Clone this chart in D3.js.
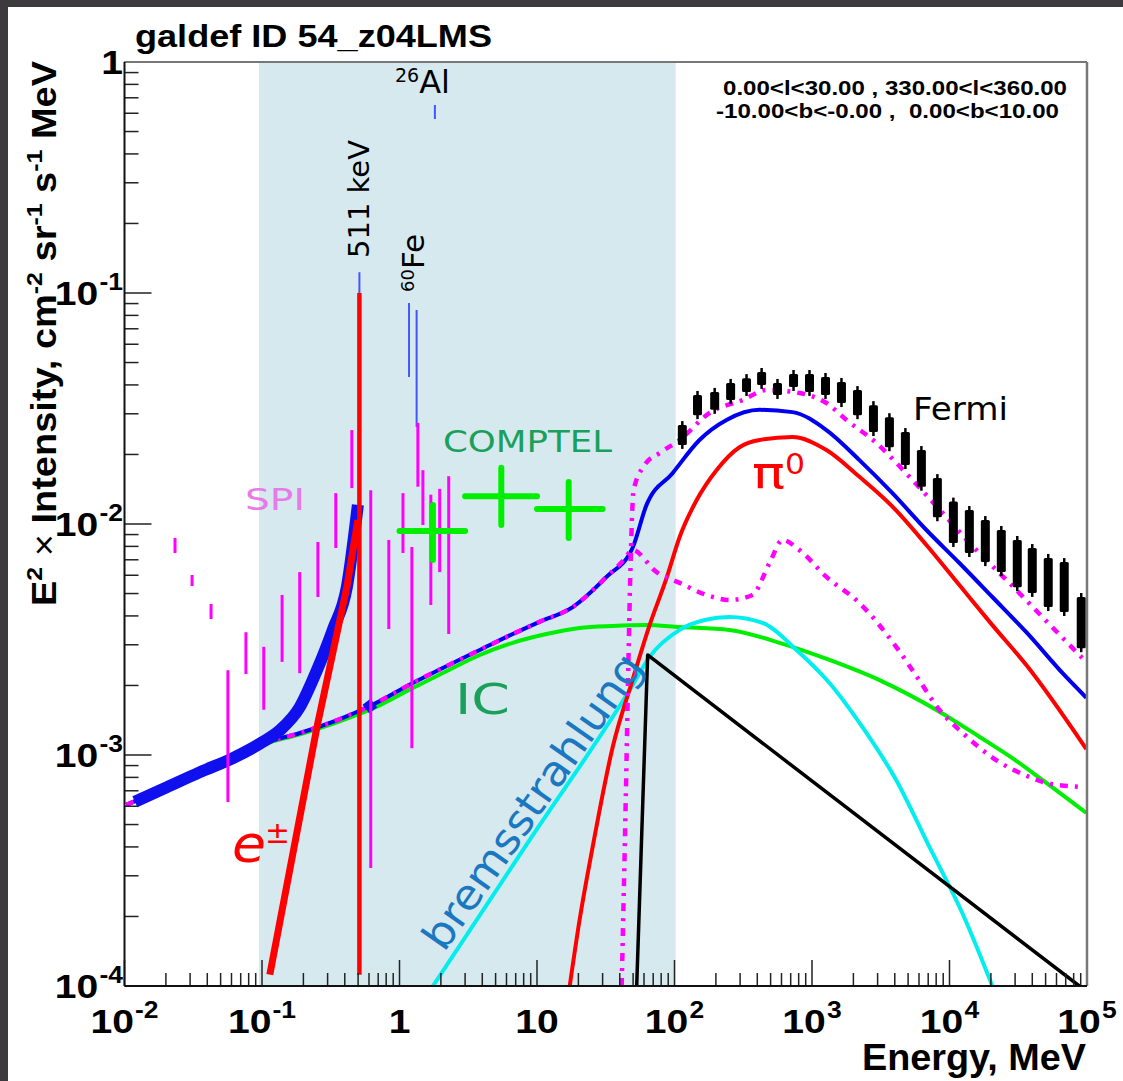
<!DOCTYPE html>
<html><head><meta charset="utf-8">
<script src="https://cdn.jsdelivr.net/npm/d3@7"></script>
<style>body{margin:0;background:#fff}svg{display:block}</style>
</head><body><svg id="c" width="1123" height="1081"></svg>
<script>
// ---------------- DATA (E in MeV, E^2 x Intensity in cm^-2 sr^-1 s^-1 MeV) ----------------
const shadeE = [0.095, 102];

// Total (blue, thin)
const totalE = [0.0103, 0.0204, 0.0354, 0.0615, 0.0966, 0.189, 0.368, 0.61, 1.25, 2.21, 3.84, 6.66, 10.4, 18.2, 32, 49.5, 62.6, 96.8, 152, 239, 415, 721, 1274, 2213, 3846, 6792, 11800, 20500, 36200, 68300, 98900];
const totalV = [6.08e-4, 7.26e-4, 8.43e-4, 9.7e-4, 1.11e-3, 1.245e-3, 1.43e-3, 1.63e-3, 2.05e-3, 2.43e-3, 2.85e-3, 3.34e-3, 3.77e-3, 4.37e-3, 5.90e-3, 7.87e-3, 1.21e-2, 1.66e-2, 2.31e-2, 2.82e-2, 3.12e-2, 3.05e-2, 2.55e-2, 1.89e-2, 1.36e-2, 9.42e-3, 6.78e-3, 4.83e-3, 3.40e-3, 2.22e-3, 1.77e-3];

// Total incl. positronium continuum (thick blue band)
const bandE = [0.0119, 0.0204, 0.0354, 0.0615, 0.0966, 0.135, 0.188, 0.251, 0.327, 0.414, 0.498];
const bandV = [6.27e-4, 7.26e-4, 8.43e-4, 9.7e-4, 1.12e-3, 1.28e-3, 1.61e-3, 2.33e-3, 3.48e-3, 5.33e-3, 1.21e-2];

// Inverse Compton (green)
const icE = [0.0103, 0.0204, 0.0354, 0.0615, 0.0966, 0.189, 0.368, 0.61, 1.25, 2.21, 3.84, 6.66, 11.7, 20.4, 35.5, 62.6, 109, 251, 581, 1340, 3097, 8450, 16500, 28640, 47300, 98900];
const icV = [6.08e-4, 7.26e-4, 8.43e-4, 9.7e-4, 1.10e-3, 1.23e-3, 1.40e-3, 1.57e-3, 1.95e-3, 2.31e-3, 2.71e-3, 3.06e-3, 3.34e-3, 3.55e-3, 3.62e-3, 3.65e-3, 3.58e-3, 3.48e-3, 3.06e-3, 2.58e-3, 2.11e-3, 1.54e-3, 1.20e-3, 9.7e-4, 7.8e-4, 5.61e-4];

// pi0 decay (red)
const pi0E = [17.3, 20.4, 25.4, 35.5, 49.5, 65.9, 87.5, 109, 145, 202, 297, 415, 721, 1274, 2213, 3846, 6792, 11800, 20500, 36200, 98900];
const pi0V = [1e-4, 1.93e-4, 4.0e-4, 1.08e-3, 2.11e-3, 3.65e-3, 5.83e-3, 8.79e-3, 1.27e-2, 1.71e-2, 2.15e-2, 2.31e-2, 2.38e-2, 2.09e-2, 1.60e-2, 1.19e-2, 8.11e-3, 5.44e-3, 3.65e-3, 2.45e-3, 1.06e-3];

// Bremsstrahlung (cyan)
const bremE = [1.75, 8.85, 47.2, 65.9, 109, 166, 251, 437, 771, 1340, 2328, 4093, 7145, 12390, 20500];
const bremV = [1e-4, 4.29e-4, 1.91e-3, 2.66e-3, 3.48e-3, 3.84e-3, 3.96e-3, 3.73e-3, 2.85e-3, 2.05e-3, 1.32e-3, 7.8e-4, 4.0e-4, 2.07e-4, 1e-4];

// Sources (black)
const srcE = [53.1, 63.8, 87900];
const srcV = [1e-4, 2.71e-3, 1e-4];

// Magenta dash-dot, lower
const magAE = [0.0103, 0.0204, 0.0354, 0.0615, 0.0966, 0.189, 0.368, 0.61, 1.25, 2.21, 3.84, 6.66, 10.4, 18.2, 32, 42.7, 49.5, 74.1, 109, 171, 251, 369, 491, 610, 811, 1274, 2213, 4093, 6012, 8433, 12390, 21880, 38020, 50470, 90800];
const magAV = [6.08e-4, 7.26e-4, 8.43e-4, 9.7e-4, 1.11e-3, 1.245e-3, 1.43e-3, 1.63e-3, 2.05e-3, 2.43e-3, 2.85e-3, 3.34e-3, 3.77e-3, 4.37e-3, 5.90e-3, 6.98e-3, 7.71e-3, 6.19e-3, 5.56e-3, 4.93e-3, 4.69e-3, 4.93e-3, 6.78e-3, 8.53e-3, 7.71e-3, 5.90e-3, 4.55e-3, 2.94e-3, 2.11e-3, 1.57e-3, 1.25e-3, 9.5e-4, 8.04e-4, 7.57e-4, 7.27e-4];

// Magenta dash-dot, upper
const magBE = [41.3, 44.2, 46.4, 48, 50.4, 60.7, 78, 109, 180, 313, 467, 811, 1274, 1782, 2944, 5117, 8872, 15670, 27230, 47300, 92300];
const magBV = [1e-4, 6.4e-4, 2.85e-3, 6.98e-3, 1.40e-2, 1.80e-2, 2.03e-2, 2.31e-2, 3.03e-2, 3.44e-2, 3.80e-2, 3.69e-2, 3.34e-2, 2.82e-2, 2.24e-2, 1.60e-2, 1.12e-2, 7.71e-3, 5.56e-3, 3.96e-3, 2.63e-3];

// e+- continuum (red thick) and 511 keV line
const epmE = [0.114, 0.251, 0.414, 0.498];
const epmV = [1.12e-4, 1.32e-3, 5.33e-3, 1.04e-2];
const annihE = 0.511, annihLo = 1.12e-4, annihHi = 0.1;

// Gamma-ray lines (thin blue): 511 keV, 60Fe (1.173, 1.332), 26Al (1.809)
const lineE  = [0.511, 1.173, 1.332, 1.809];
const lineLo = [0.0121, 0.0433, 0.0263, 0.567];
const lineHi = [0.123, 0.0905, 0.0844, 0.651];

// SPI (magenta bars)
const spiE  = [0.0233, 0.031, 0.0426, 0.0565, 0.0764, 0.103, 0.140, 0.188, 0.255, 0.344, 0.450, 0.618, 0.836, 1.06, 1.23, 1.36, 1.48, 1.69, 1.96, 2.28];
const spiLo = [7.49e-3, 5.39e-3, 3.88e-3, 6.26e-4, 2.24e-3, 1.57e-3, 2.53e-3, 2.26e-3, 4.83e-3, 7.87e-3, 1.43e-2, 3.24e-4, 3.51e-3, 7.49e-3, 1.07e-3, 1.45e-2, 9.9e-3, 4.46e-3, 6.19e-3, 3.34e-3];
const spiHi = [8.7e-3, 6.01e-3, 4.51e-3, 2.33e-3, 3.40e-3, 2.94e-3, 4.93e-3, 6.19e-3, 8.36e-3, 1.36e-2, 2.55e-2, 1.40e-2, 8.53e-3, 1.36e-2, 7.95e-3, 2.74e-2, 1.71e-2, 1.34e-2, 1.42e-2, 1.61e-2];

// COMPTEL (green crosses)
const comptelELo = [1, 3, 10];
const comptelEHi = [3, 10, 30];
const comptelEc  = [1.75, 5.5, 17];
const comptelV   = [9.33e-3, 1.32e-2, 1.16e-2];
const comptelLo  = [6.98e-3, 9.9e-3, 8.7e-3];
const comptelHi  = [1.21e-2, 1.75e-2, 1.52e-2];

// Fermi-LAT (black boxes)
const fermiE  = [114, 147, 196, 256, 334, 430, 561, 734, 959, 1254, 1638, 2142, 2798, 3656, 4778, 6246, 8162, 10670, 13940, 18220, 23810, 31110, 39990, 52260, 68300, 90800];
const fermiLo = [2.20e-2, 2.96e-2, 3.12e-2, 3.44e-2, 3.73e-2, 4.00e-2, 3.62e-2, 3.92e-2, 3.73e-2, 3.62e-2, 3.34e-2, 2.96e-2, 2.50e-2, 2.15e-2, 1.80e-2, 1.45e-2, 1.07e-2, 8.28e-3, 7.49e-3, 6.84e-3, 6.19e-3, 5.33e-3, 5.03e-3, 4.37e-3, 4.16e-3, 2.90e-3];
const fermiHi = [2.68e-2, 3.62e-2, 3.73e-2, 4.08e-2, 4.28e-2, 4.55e-2, 4.08e-2, 4.46e-2, 4.46e-2, 4.33e-2, 4.12e-2, 3.80e-2, 3.27e-2, 2.90e-2, 2.50e-2, 2.09e-2, 1.58e-2, 1.25e-2, 1.15e-2, 1.04e-2, 9.42e-3, 8.53e-3, 7.87e-3, 7.13e-3, 6.84e-3, 4.83e-3];

// Axis tick labels
const xTickVals = [1e-2, 1e-1, 1, 10, 1e2, 1e3, 1e4, 1e5];
const xTickLabels = [["10","-2"],["10","-1"],["1",""],["10",""],["10","2"],["10","3"],["10","4"],["10","5"]];
const yTickVals = [1, 1e-1, 1e-2, 1e-3, 1e-4];
const yTickLabels = [["1",""],["10","-1"],["10","-2"],["10","-3"],["10","-4"]];

// ---------------- DRAWING ----------------
const W = 1123, H = 1081;
const M = {l: 124.5, r: 1087, t: 62, b: 986};
const SX = 1.15; // horizontal text stretch
const svg = d3.select('#c');
svg.append('rect').attr('width', W).attr('height', H).attr('fill', '#fff');
svg.append('rect').attr('x', 0).attr('y', 0).attr('width', W).attr('height', 7).attr('fill', '#3d3a3e');
svg.append('rect').attr('x', 0).attr('y', 0).attr('width', 8).attr('height', H).attr('fill', '#3d3a3e');

const x = d3.scaleLog().domain([1e-2, 1e5]).range([M.l, M.r]);
const y = d3.scaleLog().domain([1e-4, 1]).range([M.b, M.t]);

svg.append('defs').append('clipPath').attr('id', 'clip').append('rect')
  .attr('x', M.l).attr('y', M.t).attr('width', M.r - M.l).attr('height', M.b - M.t);

// shaded band
svg.append('rect').attr('x', x(shadeE[0])).attr('y', M.t)
  .attr('width', x(shadeE[1]) - x(shadeE[0])).attr('height', M.b - M.t).attr('fill', '#d6e9ef');

const plot = svg.append('g').attr('clip-path', 'url(#clip)');
const zip = (a, b) => a.map((v, i) => [v, b[i]]);
const smooth = d3.line().x(d => x(d[0])).y(d => y(d[1])).curve(d3.curveMonotoneX);
const straight = d3.line().x(d => x(d[0])).y(d => y(d[1]));

function curve(E, V, color, w, gen, dash) {
  const p = plot.append('path').datum(zip(E, V)).attr('d', gen || smooth)
    .attr('fill', 'none').attr('stroke', color).attr('stroke-width', w)
    .attr('stroke-linejoin', 'round');
  if (dash) p.attr('stroke-dasharray', dash);
  return p;
}

curve(icE, icV, '#00ee00', 4);
curve(bremE, bremV, '#00eeee', 4);
curve(srcE, srcV, '#000', 3.5, straight);
curve(pi0E, pi0V, '#ff0000', 4);
curve(totalE, totalV, '#0000ee', 4);
curve(magAE, magAV, '#ff00ff', 4.5, smooth, '8,7,3,7');
curve(magBE, magBV, '#ff00ff', 4.5, smooth, '8,7,3,7');
curve(bandE, bandV, '#1010ee', 12);
// small block on total at ~0.6 MeV
plot.append('line').attr('x1', x(0.57)).attr('x2', x(0.65))
  .attr('y1', y(1.58e-3)).attr('y2', y(1.68e-3)).attr('stroke', '#1010ee').attr('stroke-width', 11);
// e+- continuum
curve(epmE, epmV, '#ff0000', 7, straight);

// gamma-ray lines
lineE.forEach((e, i) => {
  plot.append('line').attr('x1', x(e)).attr('x2', x(e)).attr('y1', y(lineLo[i])).attr('y2', y(lineHi[i]))
    .attr('stroke', '#4455ff').attr('stroke-width', 2);
});
plot.append('line').attr('x1', x(annihE)).attr('x2', x(annihE)).attr('y1', y(annihLo)).attr('y2', y(annihHi))
  .attr('stroke', '#ff0000').attr('stroke-width', 4.5);

// SPI
spiE.forEach((e, i) => {
  plot.append('line').attr('x1', x(e)).attr('x2', x(e)).attr('y1', y(spiLo[i])).attr('y2', y(spiHi[i]))
    .attr('stroke', '#ff00ff').attr('stroke-width', 3);
});

// COMPTEL
comptelEc.forEach((e, i) => {
  plot.append('line').attr('x1', x(comptelELo[i])).attr('x2', x(comptelEHi[i]))
    .attr('y1', y(comptelV[i])).attr('y2', y(comptelV[i]))
    .attr('stroke', '#00ee00').attr('stroke-width', 6).attr('stroke-linecap', 'round');
  plot.append('line').attr('x1', x(e)).attr('x2', x(e)).attr('y1', y(comptelLo[i])).attr('y2', y(comptelHi[i]))
    .attr('stroke', '#00ee00').attr('stroke-width', 6).attr('stroke-linecap', 'round');
});

// Fermi
fermiE.forEach((e, i) => {
  const cx = x(e), y1 = y(fermiHi[i]), y2 = y(fermiLo[i]);
  plot.append('line').attr('x1', cx).attr('x2', cx).attr('y1', y1 - 4).attr('y2', y2 + 4)
    .attr('stroke', '#000').attr('stroke-width', 2.5);
  plot.append('rect').attr('x', cx - 4.5).attr('y', y1).attr('width', 9).attr('height', y2 - y1)
    .attr('fill', '#000').attr('rx', 1.5);
});

// ---------------- AXES ----------------
const ax = svg.append('g');
const isMajor = v => Math.abs(Math.log10(v) - Math.round(Math.log10(v))) < 1e-6;
x.ticks().forEach(v => {
  const len = isMajor(v) ? 26 : 13;
  ax.append('line').attr('x1', x(v)).attr('x2', x(v)).attr('y1', M.b).attr('y2', M.b - len)
    .attr('stroke', '#222').attr('stroke-width', 1.5);
});
y.ticks().forEach(v => {
  const len = isMajor(v) ? 27 : 14;
  ax.append('line').attr('x1', M.l).attr('x2', M.l + len).attr('y1', y(v)).attr('y2', y(v))
    .attr('stroke', '#222').attr('stroke-width', 1.5);
});
// frame
ax.append('line').attr('x1', M.l).attr('x2', M.r).attr('y1', M.t).attr('y2', M.t).attr('stroke', '#777').attr('stroke-width', 2);
ax.append('line').attr('x1', M.r).attr('x2', M.r).attr('y1', M.t).attr('y2', M.b).attr('stroke', '#777').attr('stroke-width', 2.5);
ax.append('line').attr('x1', M.l).attr('x2', M.l).attr('y1', M.t).attr('y2', M.b).attr('stroke', '#111').attr('stroke-width', 2);
ax.append('line').attr('x1', M.l).attr('x2', M.r).attr('y1', M.b).attr('y2', M.b).attr('stroke', '#111').attr('stroke-width', 2);

const FB = "'Liberation Sans', Arial, sans-serif";
const FH = "'DejaVu Sans', 'Open Sans', sans-serif";

function powLabel(px, py, base, exp, anchor) {
  const g = svg.append('g').attr('transform', `translate(${px},${py}) scale(${SX},1)`);
  const t = g.append('text').attr('font-family', FB).attr('font-weight', 'bold')
    .attr('text-anchor', anchor).attr('fill', '#000');
  t.append('tspan').attr('font-size', 34).text(base);
  if (exp) t.append('tspan').attr('font-size', 23).attr('dy', -15).attr('dx', 1).text(exp);
}
xTickVals.forEach((v, i) => powLabel(x(v), 1033, xTickLabels[i][0], xTickLabels[i][1], 'middle'));
yTickVals.forEach((v, i) => powLabel(123, y(v) + 12, yTickLabels[i][0], yTickLabels[i][1], 'end'));

// title
svg.append('text').attr('x', 135).attr('y', 47).attr('font-family', FB).attr('font-weight', 'bold')
  .attr('font-size', 31).attr('textLength', 357).attr('lengthAdjust', 'spacingAndGlyphs').text('galdef ID 54_z04LMS');
// region text
svg.append('text').attr('x', 723).attr('y', 95).attr('font-family', FB).attr('font-weight', 'bold')
  .attr('font-size', 20).attr('textLength', 344).attr('lengthAdjust', 'spacingAndGlyphs').text('0.00<l<30.00 , 330.00<l<360.00');
svg.append('text').attr('x', 716).attr('y', 118).attr('font-family', FB).attr('font-weight', 'bold')
  .attr('font-size', 20).attr('textLength', 343).attr('lengthAdjust', 'spacingAndGlyphs').attr('xml:space', 'preserve').text('-10.00<b<-0.00 ,  0.00<b<10.00');

// x title
svg.append('text').attr('x', 1086).attr('y', 1070).attr('text-anchor', 'end').attr('font-family', FB)
  .attr('font-weight', 'bold').attr('font-size', 36).attr('textLength', 224).attr('lengthAdjust', 'spacingAndGlyphs').text('Energy, MeV');

// y title
{
  const g = svg.append('g').attr('transform', `translate(56,606) scale(1.18,1) rotate(-90)`);
  const t = g.append('text').attr('font-family', FB).attr('font-weight', 'bold').attr('font-size', 29)
    .attr('textLength', 545).attr('lengthAdjust', 'spacingAndGlyphs');
  t.append('tspan').text('E');
  t.append('tspan').attr('font-size', 19).attr('dy', -12).text('2');
  t.append('tspan').attr('font-weight', 'normal').attr('dy', 12).text(' \u00d7 ');
  t.append('tspan').text('Intensity, cm');
  t.append('tspan').attr('font-size', 19).attr('dy', -12).text('-2');
  t.append('tspan').attr('dy', 12).text(' sr');
  t.append('tspan').attr('font-size', 19).attr('dy', -12).text('-1');
  t.append('tspan').attr('dy', 12).text(' s');
  t.append('tspan').attr('font-size', 19).attr('dy', -12).text('-1');
  t.append('tspan').attr('dy', 12).text(' MeV');
}

// hand labels
function hl(px, py, str, size, color, len, rot) {
  const t = svg.append('text').attr('transform', `translate(${px},${py}) rotate(${rot || 0})`)
    .attr('font-family', FH).attr('font-size', size).attr('fill', color).text(str);
  if (len) t.attr('textLength', len).attr('lengthAdjust', 'spacingAndGlyphs');
  return t;
}
hl(443, 452, 'COMPTEL', 31, '#1aa05a', 169);
hl(245, 510, 'SPI', 31, '#e87ae8', 60);
hl(913, 420, 'Fermi', 32, '#000', 95);
hl(455, 714, 'IC', 42, '#1aa05a', 55);
hl(752, 488, '\u03c0', 44, '#ff0000', 33);
hl(785, 474, '0', 29, '#ff0000', 20);
hl(232, 862, 'e', 52, '#ff0000', 34).attr('font-style', 'italic');
hl(265, 843, '\u00b1', 30, '#ff0000', 25);
hl(444, 953, 'bremsstrahlung', 42, '#1a78c2', 350, -55);
hl(369, 258, '511 keV', 28, '#000', 118, -90);
{
  const t = svg.append('text').attr('transform', 'translate(424,292) rotate(-90)').attr('font-family', FH).attr('fill', '#000');
  t.append('tspan').attr('font-size', 18).attr('dy', -10).text('60');
  t.append('tspan').attr('font-size', 31).attr('dy', 10).text('Fe');
}
{
  const t = svg.append('text').attr('x', 395).attr('y', 93).attr('font-family', FH).attr('fill', '#000');
  t.append('tspan').attr('font-size', 19).attr('dy', -11).text('26');
  t.append('tspan').attr('font-size', 32).attr('dy', 11).text('Al');
}
</script></body></html>
